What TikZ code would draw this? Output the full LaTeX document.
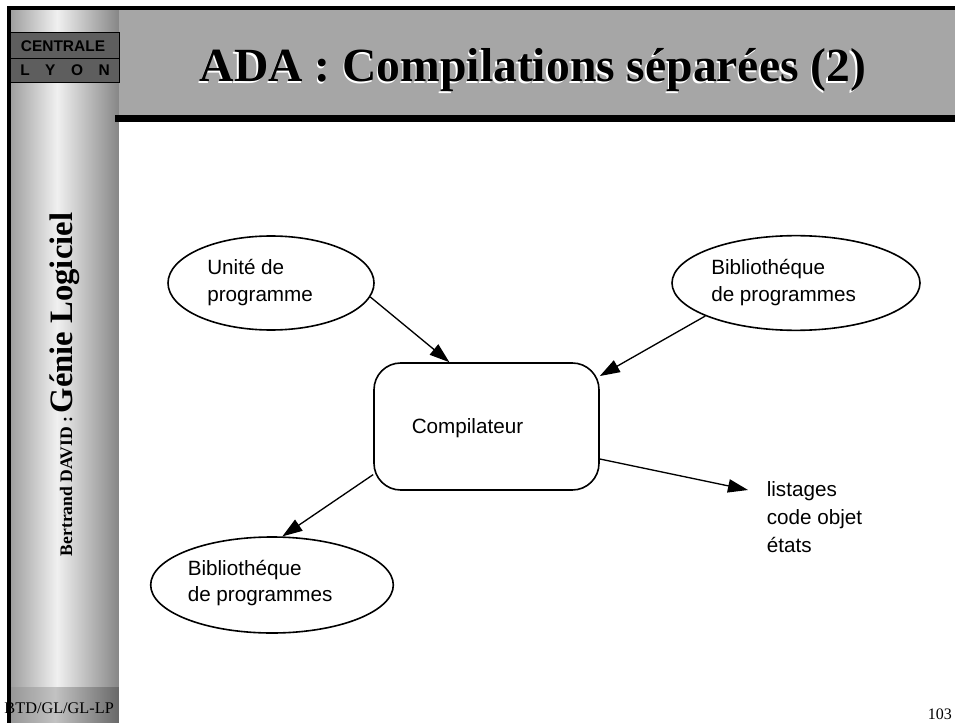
\documentclass[tikz,border=0pt]{standalone}
\usepackage{fontspec}
\setmainfont{Liberation Serif}
\setsansfont{Liberation Sans}
\usepackage{tikz}
\usetikzlibrary{arrows.meta}
\usetikzlibrary{shapes}

\definecolor{grisentete}{RGB}{166,166,166}
\definecolor{griscartouche}{RGB}{94,94,94}

\tikzset{
  bulle/.style={draw, ellipse, line width=1.2pt, inner sep=0pt},
  fleche/.style={line width=1pt, -{Triangle[length=15pt,width=10pt]}},
  texte/.style={inner sep=0pt, align=left, font=\sffamily\fontsize{15.5}{19.9}\selectfont},
  titre/.style={anchor=base, inner sep=0pt, font=\bfseries\fontsize{35.7}{40}\selectfont},
}

\begin{document}
\begin{tikzpicture}[x=0.75pt,y=0.75pt,yscale=-1,xscale=1]
\useasboundingbox (0,0) rectangle (955,723);

%Shape: Rectangle [colonne, degrade en bandes]
\foreach \i in {0,...,108}{
  \pgfmathsetmacro{\g}{\i<47 ? (158+82*\i/47)/255 : (240-104*(\i-47)/61)/255}
  \pgfmathsetmacro{\h}{\i<45 ? (150+44*\i/45)/255 : (194-88*(\i-45)/63)/255}
  \definecolor{bande}{gray}{\g}
  \definecolor{pied}{gray}{\h}
  \fill [bande] (10+\i,10) rectangle (11.4+\i,687);
  \fill [pied] (10+\i,687) rectangle (11.4+\i,723);
}
%Shape: Rectangle [entete]
\fill [grisentete] (119.3,10) rectangle (955,115);
\fill [black] (115,115) rectangle (955,122.5);
%Shape: Rectangle [cartouche]
\draw [fill=griscartouche, line width=1pt] (10,32.7) rectangle (119.3,58.3);
\draw [fill=griscartouche, line width=1pt] (10,58.3) rectangle (119.3,82.7);

% Text Node
\node [anchor=base, inner sep=0pt, font=\sffamily\bfseries\fontsize{11.6}{12}\selectfont] (centrale) at (63,51.7) {CENTRALE};
% Text Node
\node [anchor=base, inner sep=0pt, font=\sffamily\bfseries\fontsize{11.6}{12}\selectfont] (lyon) at (65,76) {L\quad Y\quad O\quad N};
% Text Node
\node [rotate=90, anchor=base, inner sep=0pt, font=\bfseries] (auteur) at (72,384.5) {{\fontsize{13.2}{14}\selectfont Bertrand DAVID :} {\fontsize{24.5}{26}\selectfont Génie Logiciel}};
% Text Node
\node [anchor=base west, inner sep=0pt, font=\fontsize{12.2}{14}\selectfont] (reference) at (4.2,713) {BTD/GL/GL-LP};
% Text Node
\node [anchor=base west, inner sep=0pt, font=\fontsize{12}{14}\selectfont] (page) at (927.5,719.3) {103};

%Straight Lines [cadre]
\draw [line width=2.6pt] (955,7.8) -- (9,7.8) -- (9,723);

% Text Node
\node [titre, white] (titre ombre) at (531.5,83.5) {ADA : Compilations séparées (2)};
% Text Node
\node [titre] (titre) at (533,82) {ADA : Compilations séparées (2)};

%Shape: Ellipse [unite]
\node [bulle, minimum width=154.5pt, minimum height=70.5pt] (unite) at (271,283) {};
\node [texte, anchor=west] (unite texte) at (207,282.6) {Unité de\\programme};
%Shape: Ellipse [bibliotheque entree]
\node [bulle, minimum width=186pt, minimum height=71pt] (biblio entree) at (796,283) {};
\node [texte, anchor=west] (biblio entree texte) at (711,282.3) {Bibliothéque\\de programmes};
%Rounded Rect [compilateur]
\node [draw, rectangle, rounded corners=20pt, line width=1.2pt, inner sep=0pt, minimum width=168.75pt, minimum height=95.25pt] (comp) at (486.5,426.5) {};
\node [texte, anchor=base west] (comp texte) at (411.5,433) {Compilateur};
%Shape: Ellipse [bibliotheque sortie]
\node [bulle, minimum width=182pt, minimum height=72pt] (biblio sortie) at (272,585) {};
\node [texte, anchor=west] (biblio sortie texte) at (187.5,583) {Bibliothéque\\de programmes};
% Text Node
\node [texte, anchor=west, font=\sffamily\fontsize{15.5}{21}\selectfont] (listages) at (766.5,517.5) {listages\\code objet\\états};
\coordinate (sortie) at (748,490);

%Straight Lines [fleches]
\draw [fleche] (unite.-8) -- (comp.120);
\draw [fleche] (biblio entree.200) -- (comp.24);
\draw [fleche] (comp.203) -- (biblio sortie.78);
\draw [fleche] (comp.-16) -- (sortie);

\end{tikzpicture}
\end{document}
